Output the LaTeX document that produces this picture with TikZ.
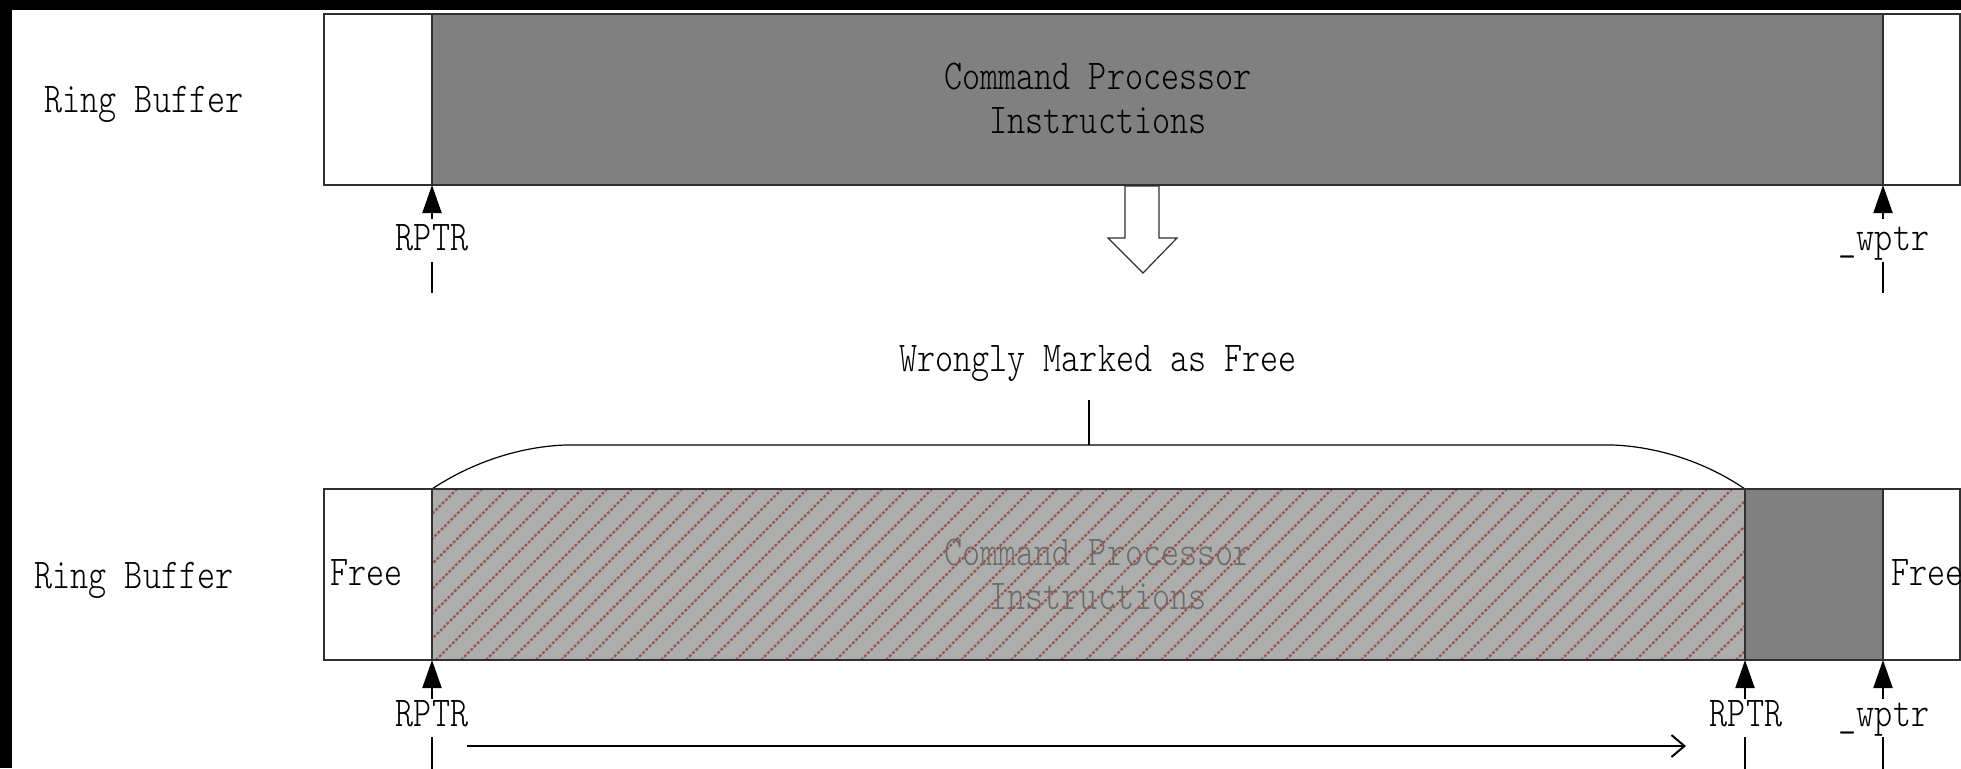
\documentclass[tikz,border=0pt]{standalone}
\usepackage{fontspec}
\usetikzlibrary{arrows.meta}

\definecolor{edge}{HTML}{303030}
\definecolor{cpgray}{HTML}{808080}
\definecolor{hatchbg}{HTML}{ADADAD}
\definecolor{hatchln}{HTML}{975752}
\definecolor{dimtext}{HTML}{6B6B6B}

% narrow, light monospaced label face
\newfontfamily\monoface{lmmonolt10-regular.otf}[FakeStretch=0.81]
\newcommand\labelface{\fontsize{21.25pt}{22pt}\monoface}

\begin{document}
\begin{tikzpicture}[x=0.5pt,y=-0.5pt,
  lbl/.style={inner sep=0pt, anchor=base, font=\labelface},
  box/.style={draw=edge, line width=0.55pt},
  stem/.style={line width=1pt},
  ptrhead/.style={line width=1pt, -{Triangle[length=14pt,width=9.5pt]}},
  move/.style={line width=1pt, -{Straight Barb[length=6.5pt,width=11pt]}},
  hatch/.style={draw=hatchln, line width=1.1pt, dash pattern=on 1.4pt off 0.9pt},
  brace/.style={line width=0.6pt}]
\useasboundingbox (0,0) rectangle (1961,768);
\fill[black] (0,0) rectangle (1961,768);
\fill[white] (12,9.5) rectangle (1961,768);

% ---------- upper ring buffer ----------
\draw[box] (324,14) rectangle (1960,185);
\filldraw[box, fill=cpgray] (432,14) rectangle (1883,185);
\node[lbl] (rb1) at (144,112) {Ring Buffer};
\node[lbl] (cp1) at (1098,89) {\begin{tabular}[t]{@{}c@{}}Command Processor\\Instructions\end{tabular}};

\coordinate (t-rp) at (432,185);
\coordinate (t-wp) at (1883,185);

\node[lbl] (rp1) at (432,250) {RPTR};
\coordinate (rp1-h) at (432,219);
\coordinate (rp1-a) at (432,262);
\coordinate (rp1-b) at (432,293);
\draw[ptrhead] (rp1-h) -- (t-rp);
\draw[stem] (rp1-a) -- (rp1-b);

\node[lbl] (wp1) at (1884,250) {\_wptr};
\coordinate (wp1-h) at (1883,219);
\coordinate (wp1-a) at (1883,262);
\coordinate (wp1-b) at (1883,293);
\draw[ptrhead] (wp1-h) -- (t-wp);
\draw[stem] (wp1-a) -- (wp1-b);

% hollow block arrow
\filldraw[fill=white, draw=edge, line width=0.6pt]
  (1125,186) -- (1159,186) -- (1159,238) -- (1177,238) -- (1143,273)
  -- (1108,238) -- (1125,238) -- cycle;

% ---------- annotation ----------
\node[lbl] (wm) at (1098,371) {Wrongly Marked as Free};
\coordinate (wm-a) at (1089,400);
\coordinate (br-top) at (1089,445);
\draw[brace] (wm-a) -- (br-top);
\draw[brace] (432,489) .. controls (468,465) and (515,447) .. (565,445)
  -- (1613,445) .. controls (1663,447) and (1710,465) .. (1745,489);

% ---------- lower ring buffer ----------
\fill[hatchbg] (432,489) rectangle (1745,660);
\node[lbl, text=dimtext] (cp2) at (1098,565) {\begin{tabular}[t]{@{}c@{}}Command Processor\\Instructions\end{tabular}};
\begin{scope}
  \clip (432,489) rectangle (1745,660);
  \foreach \k in {0,...,60}
    \draw[hatch] (261+\k*25,660) -- ++(171,-171);
\end{scope}
\draw[box] (432,489) rectangle (1745,660);
\filldraw[box, fill=cpgray] (1745,489) rectangle (1883,660);
\draw[box] (324,489) rectangle (432,660);
\draw[box] (1883,489) rectangle (1960,660);

\node[lbl] (rb2) at (134,588) {Ring Buffer};
\node[lbl, anchor=base west] (fr1) at (330,585) {Free};
\node[lbl, anchor=base west] (fr2) at (1891,585) {Free};

\coordinate (b-rp) at (432,660);
\coordinate (b-rq) at (1745,660);
\coordinate (b-wp) at (1883,660);

\node[lbl] (rp2) at (432,726) {RPTR};
\coordinate (rp2-h) at (432,699);
\coordinate (rp2-a) at (432,737);
\coordinate (rp2-b) at (432,770);
\draw[ptrhead] (rp2-h) -- (b-rp);
\draw[stem] (rp2-a) -- (rp2-b);

\node[lbl] (rp3) at (1746,726) {RPTR};
\coordinate (rp3-h) at (1745,699);
\coordinate (rp3-a) at (1745,737);
\coordinate (rp3-b) at (1745,770);
\draw[ptrhead] (rp3-h) -- (b-rq);
\draw[stem] (rp3-a) -- (rp3-b);

\node[lbl] (wp2) at (1884,726) {\_wptr};
\coordinate (wp2-h) at (1883,699);
\coordinate (wp2-a) at (1883,737);
\coordinate (wp2-b) at (1883,770);
\draw[ptrhead] (wp2-h) -- (b-wp);
\draw[stem] (wp2-a) -- (wp2-b);

% read pointer advance
\coordinate (mv-a) at (467,746);
\coordinate (mv-b) at (1686,746);
\draw[move] (mv-a) -- (mv-b);
\end{tikzpicture}
\end{document}
